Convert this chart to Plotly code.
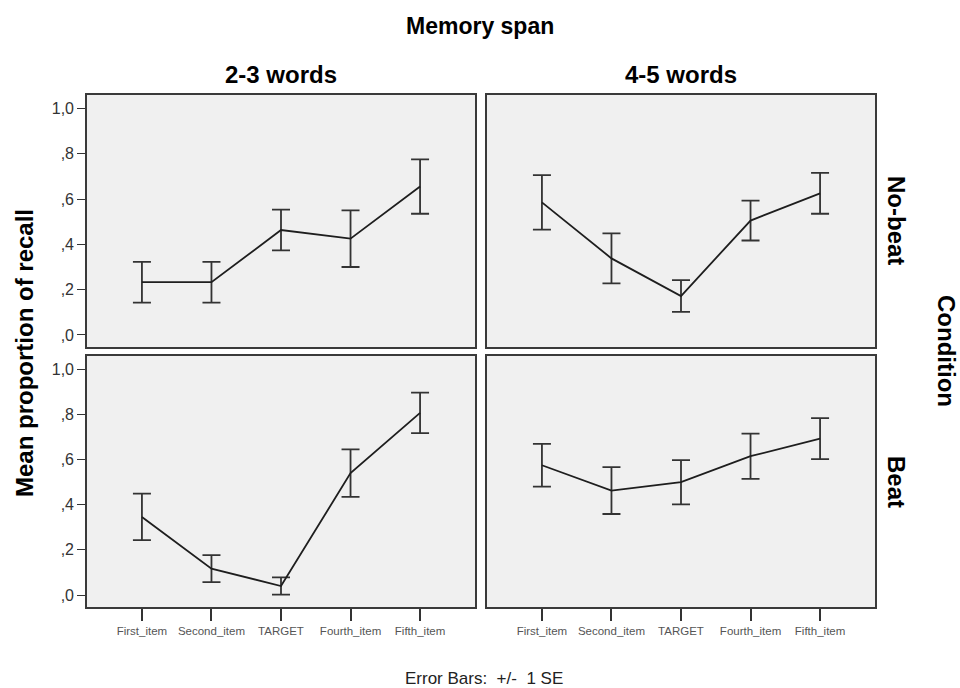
import plotly.graph_objects as go

categories = ["First_item", "Second_item", "TARGET", "Fourth_item", "Fifth_item"]
y_ticks = [0.0, 0.2, 0.4, 0.6, 0.8, 1.0]
y_tick_labels = [",0", ",2", ",4", ",6", ",8", "1,0"]

# No-beat, 2-3 words
nobeat_23_mean = [0.233, 0.233, 0.463, 0.425, 0.655]
nobeat_23_se = [0.090, 0.090, 0.090, 0.125, 0.120]
# No-beat, 4-5 words
nobeat_45_mean = [0.585, 0.338, 0.172, 0.505, 0.625]
nobeat_45_se = [0.120, 0.110, 0.070, 0.088, 0.090]
# Beat, 2-3 words
beat_23_mean = [0.346, 0.117, 0.040, 0.540, 0.807]
beat_23_se = [0.103, 0.060, 0.038, 0.105, 0.090]
# Beat, 4-5 words
beat_45_mean = [0.575, 0.463, 0.500, 0.615, 0.693]
beat_45_se = [0.095, 0.104, 0.098, 0.100, 0.091]

W, H = 960, 688
FONT = "Liberation Sans, Arial, sans-serif"

def px_x(a, b):
    return [a / W, b / W]

def px_y(top, bottom):
    return [1 - bottom / H, 1 - top / H]

panels = [
    ("", (87, 475), (95, 347), nobeat_23_mean, nobeat_23_se, False, True),
    ("2", (487, 875), (95, 347), nobeat_45_mean, nobeat_45_se, False, False),
    ("3", (87, 475), (356, 607), beat_23_mean, beat_23_se, True, True),
    ("4", (487, 875), (356, 607), beat_45_mean, beat_45_se, True, False),
]

fig = go.Figure()
layout = {}
for suf, (xa, xb), (yt, yb), means, ses, showx, showy in panels:
    fig.add_trace(go.Scatter(
        x=categories, y=means,
        mode="lines",
        line=dict(color="#1e1e1e", width=1.8),
        error_y=dict(type="data", array=ses, symmetric=True, color="#333333",
                     thickness=1.8, width=9),
        xaxis="x" + suf, yaxis="y" + suf,
        showlegend=False, hoverinfo="skip",
    ))
    layout["xaxis" + suf] = dict(
        domain=px_x(xa, xb), anchor="y" + suf,
        type="category", categoryorder="array", categoryarray=categories,
        range=[-0.79, 4.79],
        showline=True, mirror=True, linecolor="#3a3a3a", linewidth=1.6,
        showgrid=False, zeroline=False,
        ticks="outside" if showx else "", ticklen=12, tickwidth=1.6, tickcolor="#333333",
        showticklabels=showx,
        tickfont=dict(family=FONT, size=11.5, color="#555555"),
        fixedrange=True,
    )
    layout["yaxis" + suf] = dict(
        domain=px_y(yt, yb), anchor="x" + suf,
        range=[-0.053, 1.059],
        showline=True, mirror=True, linecolor="#3a3a3a", linewidth=1.6,
        showgrid=False, zeroline=False,
        tickmode="array", tickvals=y_ticks, ticktext=y_tick_labels,
        ticks="outside" if showy else "", ticklen=8, tickwidth=1.4, tickcolor="#333333",
        showticklabels=showy,
        tickfont=dict(family=FONT, size=16, color="#333333"),
        fixedrange=True,
    )

shapes = []
for suf, (xa, xb), (yt, yb), *_ in panels:
    shapes.append(dict(type="rect", xref="paper", yref="paper",
                       x0=xa / W, x1=xb / W, y0=1 - yb / H, y1=1 - yt / H,
                       fillcolor="#F0F0F0", line=dict(width=0), layer="below"))

def ann(text, x, y, size, bold=True, angle=0, color="#000000"):
    t = f"<b>{text}</b>" if bold else text
    return dict(text=t, x=x / W, y=1 - y / H, xref="paper", yref="paper",
                showarrow=False, textangle=angle, xanchor="center", yanchor="middle",
                font=dict(family=FONT, size=size, color=color))

annotations = [
    ann("Memory span", 480, 26, 23),
    ann("2-3 words", 281, 75, 24),
    ann("4-5 words", 681, 75, 24),
    ann("No-beat", 897, 220, 24, angle=90),
    ann("Beat", 897, 482, 24, angle=90),
    ann("Condition", 947, 351, 24, angle=90),
    ann("Mean proportion of recall", 24, 353, 24, angle=-90),
    ann("Error Bars:  +/-  1 SE", 484, 678, 17, bold=False, color="#222222"),
]

fig.update_layout(
    width=W, height=H,
    margin=dict(l=0, r=0, t=0, b=0),
    paper_bgcolor="white", plot_bgcolor="#F0F0F0",
    shapes=shapes, annotations=annotations,
    **layout,
)

fig.write_html("out.html", config={"displayModeBar": False},
               post_script="document.body.style.margin='0px';")
